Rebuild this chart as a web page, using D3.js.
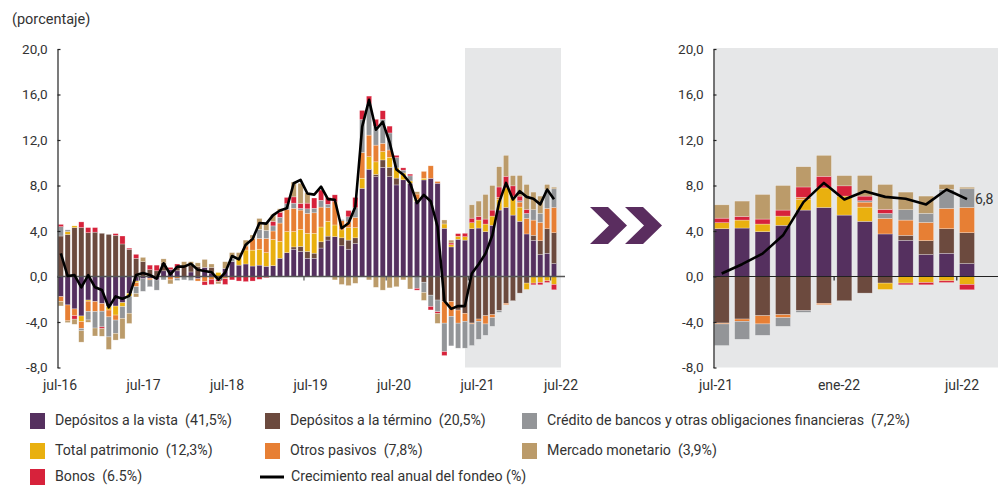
<!DOCTYPE html>
<html><head><meta charset="utf-8">
<script src="https://cdn.jsdelivr.net/npm/d3@7"></script>
<style>
body{margin:0;background:#fff;}
svg text{font-family:Roboto,"Noto Sans",sans-serif;fill:#333;}
</style></head><body>
<svg id="c" width="1008" height="485"></svg>
<script>
const months = [
"jul-16","ago-16","sep-16","oct-16","nov-16","dic-16","ene-17","feb-17","mar-17","abr-17",
"may-17","jun-17","jul-17","ago-17","sep-17","oct-17","nov-17","dic-17","ene-18","feb-18",
"mar-18","abr-18","may-18","jun-18","jul-18","ago-18","sep-18","oct-18","nov-18","dic-18",
"ene-19","feb-19","mar-19","abr-19","may-19","jun-19","jul-19","ago-19","sep-19","oct-19",
"nov-19","dic-19","ene-20","feb-20","mar-20","abr-20","may-20","jun-20","jul-20","ago-20",
"sep-20","oct-20","nov-20","dic-20","ene-21","feb-21","mar-21","abr-21","may-21","jun-21",
"jul-21","ago-21","sep-21","oct-21","nov-21","dic-21","ene-22","feb-22","mar-22","abr-22",
"may-22","jun-22","jul-22"];

const vista = [
-1.77,-2.5,-2.85,-3.47,-2.07,-2.2,-2.38,-2.65,-2.6,-2.3,
-1.48,-0.4,-0.2,-0.15,-0.3,0.5,0.6,0.5,0,0.4,
-0.2,0.8,0.3,0,0.7,1.3,1.0,1.1,0.92,1.0,
0.9,0.95,1.6,2.1,2.4,2.2,1.6,1.6,2.5,3.2,
3.5,2.7,2.4,2.9,7.75,9.43,8.78,9.6,8.78,8.05,
8.5,8.2,6.6,8.49,8.63,8.2,4.24,2.6,3.27,3.2,
4.2,4.26,3.94,4.5,5.84,6.07,5.4,4.85,3.74,3.18,
1.93,2.04,1.14];
const termino = [
3.56,3.7,4.3,4.3,3.85,3.9,3.8,3.7,3.62,2.86,
2.39,1.6,1.3,0.6,0.5,0.7,0,0.3,0.9,0.6,
0.85,0,0.5,0,0,0,0,0,0,0,
0,0,0,0,0.2,0.44,0.6,0.45,0.55,0.35,
0,0.7,0.8,0.5,0,0,0.2,0.65,0.82,0.6,
0,0,0,-0.5,-1.64,-2.07,-2.2,-2.2,-2.95,-3.24,
-4.09,-3.74,-3.45,-3.36,-3.0,-2.36,-2.13,-1.46,-0.58,0.44,
1.22,2.16,2.71];
const patrimonio = [
0,0.25,0.15,-0.5,-0.1,0,0,-0.3,-0.79,-0.35,
-0.25,-0.15,0,0,0,0,0,0,0,0,
0,0,0,0.35,0,0,0.7,1.23,1.4,1.4,
1.2,2.3,1.5,1.85,1.35,1.5,1.6,1.75,1.3,1.3,
1.03,0.7,1.1,0.9,0.89,1.1,1.1,0.73,0.88,0.9,
0.6,0.2,0.2,0.15,0,0,0.38,0.2,0.27,0.3,
0.53,0.7,0.67,0.81,0.93,1.72,1.67,1.25,-0.56,-0.58,
-0.53,-0.38,-0.7];
const otros = [
-0.44,-1.4,-0.6,-0.6,-0.9,-0.88,-0.67,-0.6,-0.44,0,
0,-0.35,0,-0.15,0,0,-0.3,-0.15,0,0,
-0.2,-0.45,-0.25,-0.25,-0.2,0,0,0.35,1.03,0.95,
1.25,0.75,1.6,1.95,2.05,1.7,1.75,1.8,1.75,1.2,
2.05,0.8,0.5,0.9,2.26,1.9,1.47,0.73,0.64,0,
0,0,0.45,0.6,1.1,0.15,-1.9,-1.3,-1.15,-0.7,
-0.08,-0.2,-0.72,-0.26,0.2,-0.12,0,0.44,1.37,1.34,
1.61,1.79,2.22];
const credito = [
0.82,0.15,0,-0.2,-0.75,-1.45,-1.38,-1.76,-1.17,-1.03,
-1.5,-0.6,-1.1,-0.6,-0.9,-0.3,0,-0.2,-0.3,-0.35,
0,0,0,0,0,0.3,0,0,0,0.8,
0.7,0.45,0.5,0.5,0.45,0.15,0.4,0.4,0.6,0.3,
0,0.1,0.45,0.85,2.9,2.78,1.67,2.1,1.5,0.9,
0.25,0.45,-1.05,-0.9,-1.0,-1.03,-2.5,-2.6,-2.2,-2.36,
-1.9,-1.58,-1.0,-0.76,-0.15,0,0,0.12,0.44,0.91,
0.79,1.66,1.64];
const bonos = [
0.2,0,-0.3,0.5,0.45,0.4,-0.15,0,0.15,0.7,
0.1,0.35,0,0.4,0.5,0,0.2,0.3,0,0,
0,-0.3,-0.45,-0.2,-0.5,-0.3,-0.4,-0.45,-0.4,-0.25,
-0.1,0.4,0.45,0.55,0.55,0.44,0.5,0.9,0.9,0.6,
0.6,0,0.55,0.9,0.8,0.65,0.6,0.76,0.6,0.2,
0.2,0.15,-0.15,0,-0.3,-0.15,-0.35,0.15,0.23,0.3,
0.4,0.32,0.44,0.53,0.9,1.02,0.9,0.41,0.35,-0.15,
-0.2,-0.15,-0.47];
const mercado = [
-0.38,-0.15,-0.45,-1.0,-0.2,-0.7,-0.67,-1.1,-0.59,-1.8,
-0.9,-0.3,0.38,0,0,0.35,-0.35,0,0.4,0.3,
0.35,0.7,0.3,-0.2,0.6,0.5,0.4,0.52,0.3,0.95,
0.65,0.6,0.3,0,1.3,1.76,0.9,0,0,0,
-0.3,-0.7,-0.8,-0.6,0,-0.3,-0.95,-1.2,-1.0,-0.9,
-0.3,-1.1,0.2,-0.7,0,-0.87,0.35,0.25,0,0,
1.17,1.35,2.16,2.16,1.78,1.84,0.9,1.81,2.19,1.55,
1.52,0.44,0.14];
const fondeo = [
2.04,0.04,0.12,-0.95,0.13,-0.95,-1.19,-2.71,-1.75,-1.95,
-1.7,0.13,0.3,0.13,-0.18,1.16,0.18,0.87,0.87,1.12,
0.6,0.48,0.38,-0.27,0.35,1.8,1.5,2.8,3.3,4.7,
4.65,5.4,5.8,6.0,8.2,8.5,7.3,7.2,7.9,6.8,
6.75,4.24,4.68,6.14,13.18,15.53,12.9,13.6,11.8,9.4,
8.95,8.2,6.45,7.17,6.62,4.38,-2.15,-2.85,-2.6,-2.6,
0.26,1.08,2.01,3.62,6.54,8.23,6.77,7.5,7.0,6.83,
6.34,7.65,6.8];

const yTicks = [-8,-4,0,4,8,12,16,20];
const leftLabels = ["jul-16","jul-17","jul-18","jul-19","jul-20","jul-21","jul-22"];
const rightLabels = ["jul-21","ene-22","jul-22"];

const seriesKeys = ["vista","termino","patrimonio","otros","credito","bonos","mercado"];
const seriesData = {vista,termino,patrimonio,otros,credito,bonos,mercado};
const seriesNames = {
  vista:"Depósitos a la vista\u00a0\u00a0(41,5%)",
  termino:"Depósitos a la término\u00a0\u00a0(20,5%)",
  credito:"Crédito de bancos y otras obligaciones financieras\u00a0\u00a0(7,2%)",
  patrimonio:"Total patrimonio\u00a0\u00a0(12,3%)",
  otros:"Otros pasivos\u00a0\u00a0(7,8%)",
  mercado:"Mercado monetario\u00a0\u00a0(3,9%)",
  bonos:"Bonos\u00a0\u00a0(6.5%)"};
const colors = {vista:"#55305f",termino:"#6c4a3e",patrimonio:"#e9b00f",otros:"#e77f34",
  credito:"#939598",bonos:"#d7223b",mercado:"#bb9b6a"};

const table = months.map((m,i)=>{const r={m:m,i:i};seriesKeys.forEach(k=>r[k]=seriesData[k][i]);return r;});
const stacked = d3.stack().keys(seriesKeys).offset(d3.stackOffsetDiverging)(table);

const svg = d3.select("#c");
const y = d3.scaleLinear().domain([-8,20]).range([367.5,49]);
const fmt = d => d.toFixed(1).replace(".",",");

function panel(opts){
  const idx = opts.idx;
  const dom = idx.map(i=>months[i]);
  const x = d3.scalePoint().domain(dom).range(opts.xr);
  const g = svg.append("g");
  g.append("rect").attr("x",opts.shade[0]).attr("width",opts.shade[1]-opts.shade[0])
   .attr("y",y(20)-1).attr("height",y(-8)-y(20)+1).attr("fill","#e6e7e8");
  stacked.forEach(s=>{
    g.append("g").selectAll("rect").data(s.filter(d=>idx.includes(d.data.i))).join("rect")
     .attr("x",d=>x(d.data.m)-opts.bw/2).attr("width",opts.bw)
     .attr("y",d=>y(Math.max(d[0],d[1]))).attr("height",d=>Math.abs(y(d[0])-y(d[1])))
     .attr("fill",colors[s.key]).attr("stroke","#fff").attr("stroke-width",0.5).attr("stroke-opacity",0.55);
  });
  const ax = d3.axisLeft(y).tickValues(yTicks).tickFormat(fmt).tickSize(-3).tickSizeOuter(0).tickPadding(opts.pad);
  const ag = g.append("g").attr("transform",`translate(${opts.ax},0)`).call(ax);
  ag.select(".domain").attr("stroke","#222").attr("stroke-width",1.2);
  ag.selectAll(".tick line").attr("stroke","#222").attr("stroke-width",1.2);
  ag.selectAll("text").attr("font-size",13.5).attr("fill","#333").style("font-family","Roboto");
  g.append("line").attr("x1",opts.ax).attr("x2",opts.zeroEnd).attr("y1",y(0)).attr("y2",y(0))
   .attr("stroke",opts.zeroColor).attr("stroke-width",opts.zeroW);
  opts.zticks.forEach(t=>{
    const xx = (x(months[t-1])+x(months[t]))/2;
    g.append("line").attr("x1",xx).attr("x2",xx).attr("y1",y(0)).attr("y2",y(0)+4)
     .attr("stroke",opts.zeroColor).attr("stroke-width",1.2);
  });
  const line = d3.line().x(i=>x(months[i])).y(i=>y(fondeo[i])).curve(d3.curveLinear);
  g.append("path").attr("d",line(idx)).attr("fill","none").attr("stroke","#000")
   .attr("stroke-width",opts.lw).attr("stroke-linejoin","round");
  const xl = d3.scalePoint().domain(opts.labels).range(opts.lr);
  g.append("g").selectAll("text").data(opts.labels).join("text")
   .attr("x",d=>xl(d)).attr("y",390).attr("text-anchor","middle").attr("font-size",14).text(d=>d);
  return {x};
}

const L = panel({idx:d3.range(0,73), xr:[60.8,554], bw:5.2, shade:[465,561], ax:57.5, pad:10,
  zeroEnd:565, zeroColor:"#555", zeroW:1.6, zticks:[12,24,36,48,60,72], lw:2.6,
  labels:leftLabels, lr:[60,561]});
const R = panel({idx:d3.range(60,73), xr:[721.7,967], bw:15, shade:[713.5,998], ax:713.5, pad:10,
  zeroEnd:998, zeroColor:"#222", zeroW:1.2, zticks:[66,72], lw:2.6,
  labels:rightLabels, lr:[716,962]});

svg.append("text").attr("x",R.x(months[72])+8).attr("y",y(fondeo[72])+5)
  .attr("font-size",14).attr("fill","#444").text(fmt(fondeo[72]));

svg.append("text").attr("x",12).attr("y",24).attr("font-size",14.5).text("(porcentaje)");

// chevrons between panels
[[590,207],[625,207]].forEach(([cx,cy])=>{
  svg.append("path").attr("d",`M${cx},${cy} l18,0 l19,18.5 l-19,18.5 l-18,0 l19,-18.5 z`).attr("fill","#5a2d5f");
});

// legend
const legRows = [
  [{k:"vista",x:30},{k:"termino",x:265},{k:"credito",x:522}],
  [{k:"patrimonio",x:30},{k:"otros",x:265},{k:"mercado",x:522}],
  [{k:"bonos",x:30},{k:"line",x:260}]
];
const rowY = [413,443,469];
legRows.forEach((row,ri)=>{
  row.forEach(it=>{
    const g = svg.append("g");
    if(it.k==="line"){
      g.append("line").attr("x1",it.x).attr("x2",it.x+24).attr("y1",rowY[ri]+8).attr("y2",rowY[ri]+8)
       .attr("stroke","#000").attr("stroke-width",3);
      g.append("text").attr("x",it.x+31).attr("y",rowY[ri]+12).attr("font-size",14.2)
       .text("Crecimiento real anual del fondeo (%)");
    } else {
      g.append("rect").attr("x",it.x).attr("y",rowY[ri]).attr("width",15).attr("height",16).attr("fill",colors[it.k]);
      g.append("text").attr("x",it.x+25).attr("y",rowY[ri]+12).attr("font-size",14.2).text(seriesNames[it.k]);
    }
  });
});
</script>
</body></html>
